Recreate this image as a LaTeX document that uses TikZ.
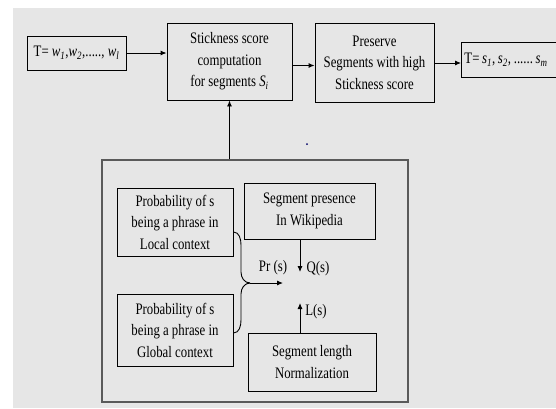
\documentclass[tikz,border=0pt]{standalone}
\usepackage{fontspec}
\setmainfont{Liberation Serif}[FakeStretch=0.8]
\usepackage{xcolor}
\usepackage{tikz}
\usetikzlibrary{arrows.meta}
\definecolor{paper}{HTML}{E6E6E6}
\definecolor{frame}{HTML}{5A5A5A}
\newcommand{\ivar}[2]{\textit{#1}\textsubscript{\textit{#2}}}
\tikzset{
  stepbox/.style={
    draw=black, line width=0.9pt, align=center, inner sep=2pt,
    font=\fontsize{16}{21.5}\selectfont
  },
  tag/.style={
    inner sep=0pt, font=\fontsize{16}{18}\selectfont
  }
}

\begin{document}
\begin{tikzpicture}[x=1pt,y=-1pt]
        \useasboundingbox (0,0) rectangle (556,408);
        \fill[paper] (13,8) rectangle (556,408);

        \begin{scope}[every node/.style={stepbox}]
            \node[minimum width=99pt, minimum height=34pt] (tin) at (76.5, 53) {T= \ivar{w}{1},\ivar{w}{2},....., \ivar{w}{l}};
            \node[minimum width=125pt, minimum height=77pt] (stick) at (229.5, 61.5) {Stickness score\\computation\\for segments \ivar{S}{i}};
            \node[minimum width=119pt, minimum height=79pt] (pres) at (374.5, 62.5) {Preserve\\Segments with high\\Stickness score};
            \node[minimum width=104pt, minimum height=35pt, anchor=west, align=left, text width=98pt, inner sep=1.5pt] (tout) at (461, 59.5) {T=\,\ivar{s}{1},\,\ivar{s}{2},\,......\,\ivar{s}{m}};

            \node[draw=frame, line width=1.4pt, minimum width=306pt, minimum height=242pt] (ctx) at (255, 281) {};

            \node[minimum width=116pt, minimum height=68pt] (local) at (175, 222) {Probability of s\\being a phrase in\\Local context};
            \node[minimum width=131pt, minimum height=56pt] (wiki) at (309.5, 211) {Segment presence\\In Wikipedia};
            \node[minimum width=116pt, minimum height=72pt] (global) at (175, 330) {Probability of s\\being a  phrase in\\Global context};
            \node[minimum width=128pt, minimum height=58pt] (norm) at (312, 362) {Segment length\\Normalization};
        \end{scope}

        \node[tag] (pr) at (273, 268) {Pr (s)};
        \node[tag] (qs) at (318, 269) {Q(s)};
        \node[tag] (ls) at (316, 312) {L(s)};

        \coordinate (merge) at (250, 283);
        \coordinate (prend) at (283, 283);
        \coordinate (qtip) at (300, 272);
        \coordinate (ltip) at (300, 303);

        % the brace joining both probabilities
        \draw[line width=0.9pt] ([yshift=-10pt]local.east) to[out=0,in=90] (241, 245) -- (241, 272) to[out=-90,in=180] (merge);
        \draw[line width=0.9pt] (merge) to[out=180,in=90] (241, 294) -- (241, 320) to[out=-90,in=0] ([yshift=-3pt]global.east);

        \begin{scope}[>={Latex[length=6pt,width=5pt]}, every edge/.style={draw=black,line width=0.9pt}]
            \path [->] (tin) edge (tin -| stick.west);
            \path [->] ([yshift=-4pt]stick.east) edge ([yshift=-4pt]stick.east -| pres.west);
            \path [->] (pres.east |- 0,63) edge (tout.west |- 0,63);
            \path [->] (stick.south |- ctx.north) edge (stick.south);

            \path [->] (merge) edge (prend);
            \path [->] (qtip |- wiki.south) edge (qtip);
            \path [->] (ltip |- norm.north) edge (ltip);
        \end{scope}

        \fill[blue!40!black] (307, 144) circle (1pt);
\end{tikzpicture}
\end{document}
